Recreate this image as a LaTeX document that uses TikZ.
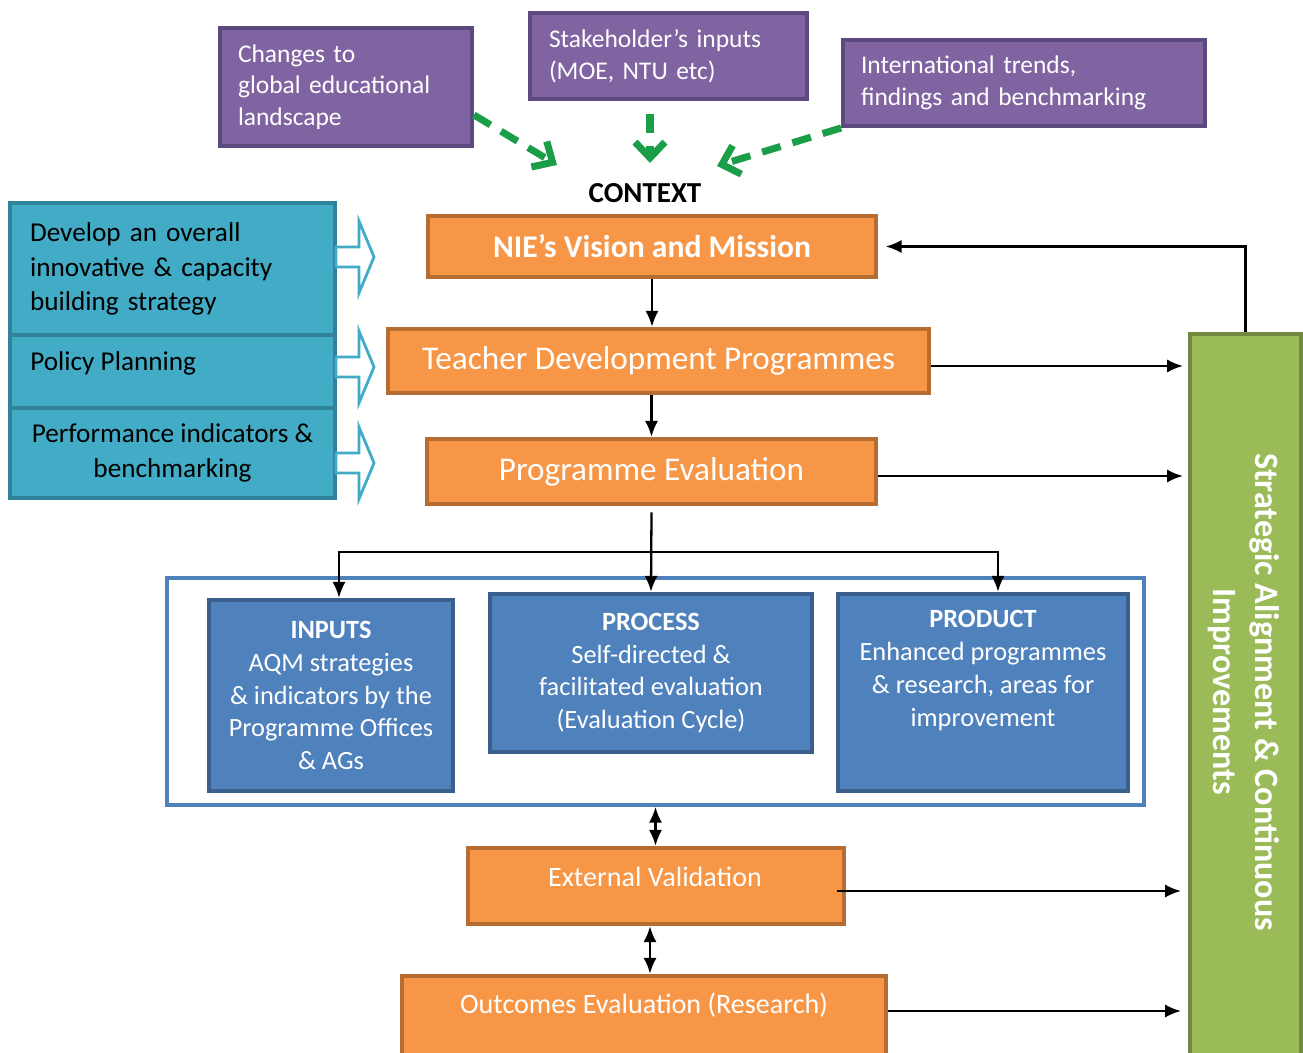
\documentclass[tikz,border=0pt]{standalone}
\usepackage{fontspec}
\setmainfont{Carlito}
\usetikzlibrary{arrows.meta,calc}

\definecolor{ctxfill}{HTML}{8064A2}
\definecolor{ctxline}{HTML}{5C4A7E}
\definecolor{stratfill}{HTML}{42ABC5}
\definecolor{stratline}{HTML}{31839A}
\definecolor{progfill}{HTML}{F79646}
\definecolor{progline}{HTML}{B66D31}
\definecolor{cyclefill}{HTML}{4F81BD}
\definecolor{cycleline}{HTML}{3A5F8C}
\definecolor{framecol}{HTML}{4F81BD}
\definecolor{alignfill}{HTML}{9BBB59}
\definecolor{alignline}{HTML}{71893F}
\definecolor{dashgreen}{HTML}{1A9E47}

\tikzset{
  ctxbox/.style={draw=ctxline, fill=ctxfill, line width=2.2pt, text=white, align=left,
    inner sep=0pt, font=\fontsize{14.5}{18}\selectfont},
  stratbox/.style={draw=stratline, fill=stratfill, line width=2.6pt, text=black,
    inner sep=0pt, minimum width=6.5cm, font=\fontsize{15.5}{19.6}\selectfont},
  progbox/.style={draw=progline, fill=progfill, line width=2.6pt, text=white,
    inner sep=0pt, font=\fontsize{18.9}{22}\selectfont},
  cyclebox/.style={draw=cycleline, fill=cyclefill, line width=2.6pt, text=white,
    align=center, inner sep=0pt, font=\fontsize{15}{18.7}\selectfont},
  alignbox/.style={draw=alignline, fill=alignfill, line width=2.4pt, inner sep=0pt},
  arr/.style={line width=1.3pt, -{Latex[length=9pt,width=7.5pt]}},
  dblarr/.style={line width=1.3pt, {Latex[length=9pt,width=7.5pt]}-{Latex[length=9pt,width=7.5pt]}},
  dasharr/.style={dashgreen, line width=4pt, dash pattern=on 11pt off 7pt,
    -{Straight Barb[length=9pt,width=17pt]}},
  holarrow/.pic={\draw[stratfill, fill=white, line width=1.6pt]
    (0,-10) -- (23,-10) -- (23,-36) -- (38,0) -- (23,36) -- (23,10) -- (0,10) -- cycle;}
}

\begin{document}
\begin{tikzpicture}[x=0.02cm, y=-0.02cm]
\clip (0,0) rectangle (1303,1053);
\fill[white] (0,0) rectangle (1303,1053);

% context
\node[ctxbox, minimum width=5.04cm, minimum height=2.36cm, text width=4.32cm] (ctx1) at (346,87)
  {Changes to\\ global educational\\ landscape};
\node[ctxbox, minimum width=5.54cm, minimum height=1.72cm, text width=4.78cm] (ctx2) at (668.5,56)
  {Stakeholder’s inputs\\ (MOE, NTU etc)};
\node[ctxbox, minimum width=7.24cm, minimum height=1.72cm, text width=6.52cm] (ctx3) at (1024,83)
  {International trends,\\ findings and benchmarking};
\node[font=\bfseries\fontsize{16.5}{18}\selectfont] (ctxlabel) at (645,193) {CONTEXT};

\coordinate (ctxin1) at (557,165);
\coordinate (ctxin2) at (650,163);
\coordinate (ctxin3) at (717,166);
\draw[dasharr] ([yshift=0.66cm]ctx1.south east) -- (ctxin1);
\draw[dasharr, shorten <=0.26cm] (ctx2.south -| ctxin2) -- (ctxin2);
\draw[dasharr] (ctx3.south west) -- (ctxin3);

% strategy column
\node[stratbox, minimum height=2.64cm, text width=5.7cm, align=left] (lvl1) at (172.5,269)
  {Develop an overall\\ innovative \& capacity\\ building strategy};
\node[stratbox, minimum height=1.46cm] (lvl2) at (172.5,371.5) {};
\node[font=\fontsize{15.5}{19.6}\selectfont, anchor=west, inner sep=0pt] (lvl2txt) at (30,363) {Policy Planning};
\node[stratbox, minimum height=1.8cm, align=center] (lvl3) at (172.5,453)
  {Performance indicators \&\\ benchmarking};
\pic at (336,257) {holarrow};
\pic at (336,367) {holarrow};
\pic at (336,463) {holarrow};

% programme chain
\node[progbox, minimum width=8.96cm, minimum height=1.22cm, font=\bfseries\fontsize{18}{20}\selectfont] (nie) at (652,246.5)
  {NIE’s Vision and Mission};
\node[progbox, minimum width=10.82cm, minimum height=1.28cm] (tdp) at (658.5,361)
  {Teacher Development Programmes};
\node[progbox, minimum width=8.98cm, minimum height=1.3cm] (pe) at (651.5,471.5)
  {Programme Evaluation};
\draw[arr] (nie.south) -- (nie.south |- tdp.north);
\draw[arr] (pe.north |- tdp.south) -- (pe.north);

% evaluation cycle
\node[draw=framecol, fill=white, line width=2.2pt, minimum width=19.54cm, minimum height=4.54cm] (frame) at (655.5,691.5) {};
\node[cyclebox, minimum width=4.88cm, minimum height=3.82cm] (inputs) at (331,695.5)
  {\textbf{INPUTS}\\ AQM strategies\\ \& indicators by the\\ Programme Offices\\ \& AGs};
\node[cyclebox, minimum width=6.44cm, minimum height=3.16cm] (process) at (651,673)
  {\textbf{PROCESS}\\ Self-directed \&\\ facilitated evaluation\\ (Evaluation Cycle)};
\node[cyclebox, minimum width=5.8cm, minimum height=3.94cm] (product) at (983,692.5) {};
\node[align=center, text=white, inner sep=0pt, font=\fontsize{15}{18.7}\selectfont] (producttxt) at (983,670.5)
  {\textbf{PRODUCT}\\ Enhanced programmes\\ \& research, areas for\\ improvement};
\coordinate (split) at (651,552);
\draw[arr] ([yshift=-0.12cm]pe.south) -- (process.north);
\draw[line width=1.3pt] (split) -- (339,552);
\draw[arr] (split) -| ([xshift=0.16cm]inputs.north);
\draw[arr] (split) -| ([xshift=0.3cm]product.north);

% validation and outcomes
\node[progbox, minimum width=7.52cm, minimum height=1.52cm] (extval) at (656,886) {};
\node[text=white, inner sep=0pt, font=\fontsize{16}{18}\selectfont] (extvaltxt) at (655,877) {External Validation};
\node[progbox, minimum width=9.68cm, minimum height=1.68cm] (outc) at (644,1018) {};
\node[text=white, inner sep=0pt, font=\fontsize{16}{18}\selectfont] (outctxt) at (644,1005) {Outcomes Evaluation (Research)};
\draw[dblarr] (frame.south) -- (frame.south |- extval.north);
\draw[dblarr] ([xshift=-0.12cm]extval.south) -- ([xshift=-0.12cm]extval.south |- outc.north);

% strategic alignment
\node[alignbox, minimum width=2.22cm, minimum height=14.62cm] (sab) at (1245.5,699.5) {};
\node[rotate=-90, align=center, text=white, inner sep=0pt, font=\bfseries\fontsize{19.4}{24}\selectfont] (sabtxt) at (1244,692)
  {Strategic Alignment \& Continuous\\ Improvements};
\draw[arr, shorten >=0.1cm] ([yshift=-0.1cm]tdp.east) -- ([yshift=-0.1cm]tdp.east -| sab.west);
\draw[arr, shorten >=0.1cm] ([yshift=-0.09cm]pe.east) -- ([yshift=-0.09cm]pe.east -| sab.west);
\draw[arr, shorten >=0.14cm] ([xshift=-0.18cm,yshift=-0.1cm]extval.east) -- ([yshift=-0.1cm]extval.east -| sab.west);
\draw[arr, shorten >=0.14cm] ([yshift=0.14cm]outc.east) -- ([yshift=0.14cm]outc.east -| sab.west);
\draw[arr, shorten >=0.15cm] (sab.north) |- (nie.east);

\end{tikzpicture}
\end{document}
